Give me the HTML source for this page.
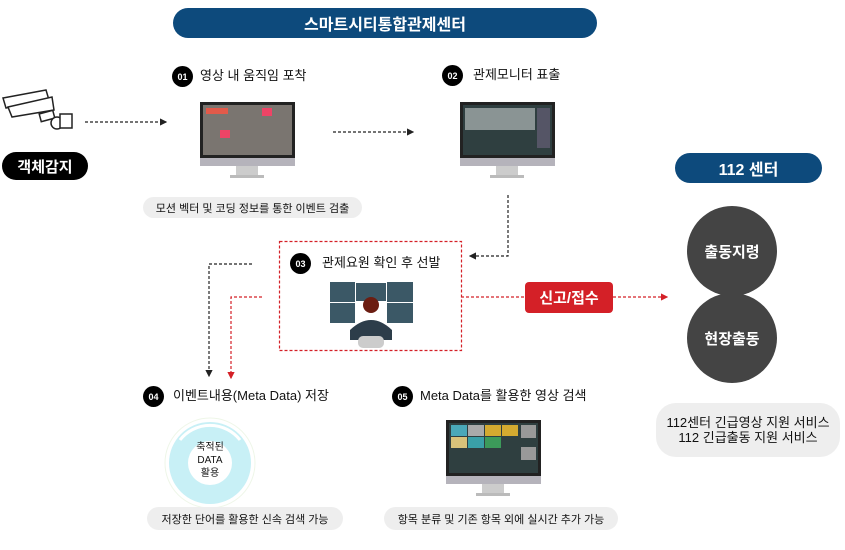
<!DOCTYPE html>
<html><head><meta charset="utf-8"><style>
*{margin:0;padding:0;box-sizing:border-box}
body{width:845px;height:550px;background:#fff;position:relative;overflow:hidden;font-family:"Liberation Sans","Noto Sans CJK KR",sans-serif;color:#111}
.a{position:absolute}
.pill{position:absolute;display:flex;align-items:center;justify-content:center;border-radius:16px}
.num{position:absolute;width:21px;height:21px;border-radius:50%;background:#000;color:#fff;font-size:9px;font-weight:bold;display:flex;align-items:center;justify-content:center}
.lbl{position:absolute;font-size:13px;line-height:16px}
.cap{position:absolute;background:#eee;border-radius:12px;font-size:11px;display:flex;align-items:center;justify-content:center}
.circ{position:absolute;width:90px;height:90px;border-radius:50%;background:#444;color:#fff;font-size:15px;font-weight:bold;display:flex;align-items:center;justify-content:center}
</style></head><body>
<div class="pill" style="left:173px;top:8px;width:424px;height:30px;background:#0d4a7c;color:#fff;font-size:16px;font-weight:bold">스마트시티통합관제센터</div>
<div class="pill" style="left:2px;top:152px;width:86px;height:28px;background:#000;color:#fff;font-size:15px;font-weight:bold">객체감지</div>
<div class="pill" style="left:675px;top:153px;width:147px;height:30px;background:#0d4a7c;color:#fff;font-size:16px;font-weight:bold">112 센터</div>

<svg class="a" style="left:0;top:0" width="845" height="550">
<defs>
<marker id="ak" markerWidth="6" markerHeight="6" refX="5" refY="3" orient="auto"><path d="M0,0L6,3L0,6z" fill="#222"/></marker>
<marker id="ar" markerWidth="6" markerHeight="6" refX="5" refY="3" orient="auto"><path d="M0,0L6,3L0,6z" fill="#d42027"/></marker>
</defs>
<!-- camera -->
<g fill="#fff" stroke="#222" stroke-width="1.5">
<path d="M3,98 L46,90 L49,100 L6,108z"/>
<path d="M8,107 L52,97 L54,110 L12,117z"/>
<rect x="40" y="112" width="14" height="8" transform="rotate(-15 47 116)"/>
<circle cx="57" cy="123" r="6"/><rect x="60" y="114" width="12" height="14"/>
</g>
<g stroke="#222" stroke-width="1.2" stroke-dasharray="3,2" fill="none">
<line x1="85" y1="122" x2="166" y2="122" marker-end="url(#ak)"/>
<line x1="333" y1="132" x2="413" y2="132" marker-end="url(#ak)"/>
<polyline points="508,195 508,256 470,256" marker-end="url(#ak)"/>
<polyline points="252,264 209,264 209,376" marker-end="url(#ak)"/>
</g>
<g stroke="#d42027" stroke-width="1.2" stroke-dasharray="3,2" fill="none">
<rect x="279.5" y="241.5" width="182" height="109"/>
<polyline points="262,297 231,297 231,378" marker-end="url(#ar)"/>
<line x1="461" y1="297" x2="525" y2="297"/>
<line x1="613" y1="297" x2="667" y2="297" marker-end="url(#ar)"/>
</g>
<!-- monitors -->
<g>
<rect x="200" y="102" width="95" height="56" fill="#222"/><rect x="203" y="105" width="89" height="50" fill="#7a7570"/>
<rect x="220" y="130" width="10" height="8" fill="#ee4466"/><rect x="262" y="108" width="10" height="8" fill="#ee4466"/><rect x="206" y="108" width="22" height="6" fill="#e25a4a"/>
<rect x="200" y="158" width="95" height="8" fill="#b5b3bb"/><rect x="236" y="166" width="22" height="9" fill="#ccc"/><rect x="230" y="175" width="34" height="3" fill="#bbb"/>
</g>
<g>
<rect x="460" y="102" width="95" height="56" fill="#222"/><rect x="463" y="105" width="89" height="50" fill="#2f3f40"/>
<rect x="465" y="108" width="70" height="22" fill="#8a9494"/><rect x="537" y="108" width="13" height="40" fill="#556"/>
<rect x="460" y="158" width="95" height="8" fill="#b5b3bb"/><rect x="496" y="166" width="22" height="9" fill="#ccc"/><rect x="490" y="175" width="34" height="3" fill="#bbb"/>
</g>
<g>
<rect x="446" y="420" width="95" height="56" fill="#222"/><rect x="449" y="423" width="89" height="50" fill="#2f3f40"/>
<rect x="451" y="425" width="16" height="11" fill="#4aa8b8"/><rect x="468" y="425" width="16" height="11" fill="#aaa"/><rect x="485" y="425" width="16" height="11" fill="#d4aa30"/><rect x="502" y="425" width="16" height="11" fill="#d4aa30"/>
<rect x="451" y="437" width="16" height="11" fill="#d8c27a"/><rect x="468" y="437" width="16" height="11" fill="#3aa0a8"/><rect x="485" y="437" width="16" height="11" fill="#3c9a5a"/>
<rect x="521" y="425" width="15" height="13" fill="#999"/><rect x="521" y="447" width="15" height="13" fill="#999"/>
<rect x="446" y="476" width="95" height="8" fill="#b5b3bb"/><rect x="482" y="484" width="22" height="9" fill="#ccc"/><rect x="476" y="493" width="34" height="3" fill="#bbb"/>
</g>
<!-- operator -->
<g>
<rect x="330" y="282" width="25" height="20" fill="#3b5866"/><rect x="356" y="283" width="30" height="18" fill="#3b5866"/><rect x="387" y="282" width="26" height="20" fill="#3b5866"/>
<rect x="330" y="303" width="25" height="20" fill="#3b5866"/><rect x="387" y="303" width="26" height="20" fill="#3b5866"/>
<circle cx="371" cy="305" r="8" fill="#6b1d12"/>
<path d="M350,330 Q371,310 392,330 L392,340 L350,340z" fill="#2d3d4a"/>
<rect x="358" y="336" width="26" height="12" rx="5" fill="#ccc"/>
</g>
<!-- data ring -->
<circle cx="210" cy="463" r="45" fill="#fff" stroke="#eef6e8" stroke-width="1"/>
<circle cx="210" cy="463" r="41" fill="#c8f0f6"/>
<path d="M180,440 A38,38 0 0 1 240,440" stroke="#fff" stroke-width="3" fill="none"/>
<circle cx="210" cy="463" r="22" fill="#fff"/>
</svg>

<div class="num" style="left:172px;top:66px">01</div><div class="lbl" style="left:200px;top:68px">영상 내 움직임 포착</div>
<div class="num" style="left:442px;top:65px">02</div><div class="lbl" style="left:473px;top:67px">관제모니터 표출</div>
<div class="num" style="left:290px;top:253px">03</div><div class="lbl" style="left:322px;top:255px">관제요원 확인 후 선발</div>
<div class="num" style="left:143px;top:386px">04</div><div class="lbl" style="left:173px;top:388px">이벤트내용(Meta Data) 저장</div>
<div class="num" style="left:392px;top:386px">05</div><div class="lbl" style="left:420px;top:388px">Meta Data를 활용한 영상 검색</div>
<div class="a" style="left:188px;top:441px;width:44px;text-align:center;font-size:10px;line-height:13px">축적된<br>DATA<br>활용</div>

<div class="cap" style="left:143px;top:197px;width:219px;height:21px">모션 벡터 및 코딩 정보를 통한 이벤트 검출</div>
<div class="cap" style="left:147px;top:507px;width:196px;height:23px">저장한 단어를 활용한 신속 검색 가능</div>
<div class="cap" style="left:384px;top:507px;width:234px;height:23px">항목 분류 및 기존 항목 외에 실시간 추가 가능</div>
<div class="cap" style="left:656px;top:403px;width:184px;height:54px;border-radius:20px;font-size:13px;line-height:15px;text-align:center">112센터 긴급영상 지원 서비스<br>112 긴급출동 지원 서비스</div>

<div class="pill" style="left:525px;top:282px;width:88px;height:31px;border-radius:4px;background:#d42027;color:#fff;font-size:15px;font-weight:bold">신고/접수</div>
<div class="circ" style="left:687px;top:206px">출동지령</div>
<div class="circ" style="left:687px;top:293px">현장출동</div>
</body></html>
